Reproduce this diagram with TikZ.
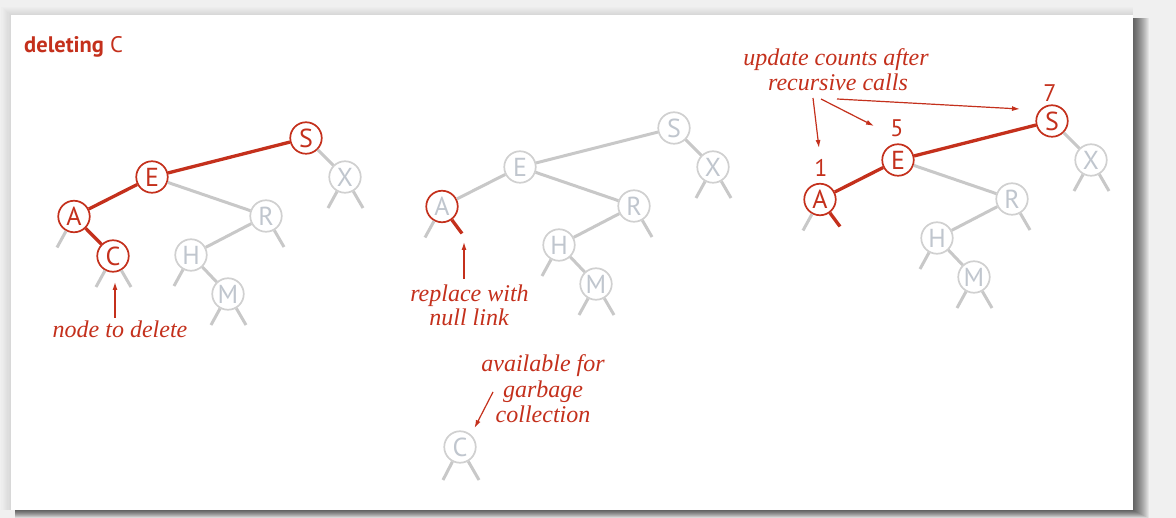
\documentclass[tikz,border=0pt]{standalone}
\usepackage{fontspec}
\setmainfont{Liberation Serif}
\newfontfamily\nsans{PT Sans}
\usetikzlibrary{arrows.meta}
\definecolor{myred}{RGB}{196,48,28}
\definecolor{gline}{RGB}{200,200,200}
\definecolor{gcirc}{RGB}{208,208,208}
\definecolor{gtext}{RGB}{192,198,206}
\definecolor{bgc}{RGB}{240,240,240}
\tikzset{
  gnode/.style={circle, draw=gcirc, fill=white, line width=1.7pt, minimum size=31.5pt, inner sep=0pt, text=gtext, font=\nsans\fontsize{26}{26}\selectfont},
  rnode/.style={gnode, draw=myred, text=myred},
  rgnode/.style={gnode, draw=myred},
  gedge/.style={draw=gline, line width=3pt},
  redge/.style={draw=myred, line width=3.3pt},
  arr/.style={draw=myred, line width=1.2pt, -{Latex[length=8pt,width=5pt]}},
  lbl/.style={text=myred, font=\itshape\fontsize{24}{25}\selectfont, inner sep=0pt, anchor=base},
  num/.style={text=myred, font=\nsans\fontsize{24}{24}\selectfont, inner sep=0pt, anchor=base},
}
\begin{document}
\begin{tikzpicture}[x=1pt,y=-1pt]
\useasboundingbox (0,0) rectangle (1176,518);
\fill[bgc] (0,0) rectangle (1176,518);
\foreach \k in {1,...,8}{
  \fill[black, opacity=0.012] (11-\k*1.2,15-\k) rectangle (1133,510);
}
\foreach \k in {1,...,16}{
  \fill[black, opacity=0.05] (15,18) rectangle (1133+\k,510+\k/2);
}
\fill[white] (11,15) rectangle (1133,510);

\node[anchor=base west, text=myred, font=\nsans\fontsize{22.5}{22.5}\selectfont, inner sep=0pt] (title) at (24,53) {\textbf{deleting} C};

% ---------- tree 1
\node[rnode] (s1) at (306,138) {S};
\node[rnode] (e1) at (152,177) {E};
\node[rnode] (a1) at (74,216.5) {A};
\node[rnode] (c1) at (113,256) {C};
\node[gnode] (r1) at (266,216) {R};
\node[gnode] (h1) at (191,255) {H};
\node[gnode] (m1) at (228,294) {M};
\node[gnode] (x1) at (345,177) {X};
\draw[redge] (e1) -- (s1);
\draw[redge] (a1) -- (e1);
\draw[redge] (a1) -- (c1);
\draw[gedge] (e1) -- (r1);
\draw[gedge] (r1) -- (h1);
\draw[gedge] (h1) -- (m1);
\draw[gedge] (s1) -- (x1);
\draw[gedge] (a1) -- ([shift={(-17,31)}]a1.center);
\draw[gedge] (c1) -- ([shift={(-17,31)}]c1.center);
\draw[gedge] (c1) -- ([shift={(18,31)}]c1.center);
\draw[gedge] (r1) -- ([shift={(18,31)}]r1.center);
\draw[gedge] (h1) -- ([shift={(-17,31)}]h1.center);
\draw[gedge] (m1) -- ([shift={(-17,31)}]m1.center);
\draw[gedge] (m1) -- ([shift={(18,31)}]m1.center);
\draw[gedge] (x1) -- ([shift={(-17,31)}]x1.center);
\draw[gedge] (x1) -- ([shift={(18,31)}]x1.center);
\node[lbl] (l1) at (120,338) {node to delete};
\coordinate (t1a) at (115,318);
\coordinate (t1b) at (115,282);
\draw[arr] (t1a) -- (t1b);

% ---------- tree 2
\node[gnode] (s2) at (674,128) {S};
\node[gnode] (e2) at (520,167) {E};
\node[rgnode] (a2) at (442,206.5) {A};
\node[gnode] (r2) at (634,206) {R};
\node[gnode] (h2) at (559,245) {H};
\node[gnode] (m2) at (596,284) {M};
\node[gnode] (x2) at (713,167) {X};
\node[gnode] (c2) at (460,447) {C};
\draw[gedge] (e2) -- (s2);
\draw[gedge] (a2) -- (e2);
\draw[gedge] (e2) -- (r2);
\draw[gedge] (r2) -- (h2);
\draw[gedge] (h2) -- (m2);
\draw[gedge] (s2) -- (x2);
\draw[gedge] (a2) -- ([shift={(-17,31)}]a2.center);
\draw[redge] (a2) -- ([shift={(20,27)}]a2.center);
\draw[gedge] (r2) -- ([shift={(18,31)}]r2.center);
\draw[gedge] (h2) -- ([shift={(-17,31)}]h2.center);
\draw[gedge] (m2) -- ([shift={(-17,31)}]m2.center);
\draw[gedge] (m2) -- ([shift={(18,31)}]m2.center);
\draw[gedge] (x2) -- ([shift={(-17,31)}]x2.center);
\draw[gedge] (x2) -- ([shift={(18,31)}]x2.center);
\draw[gedge] (c2) -- ([shift={(-17,33)}]c2.center);
\draw[gedge] (c2) -- ([shift={(19,33)}]c2.center);
\node[lbl] (l2a) at (469.5,302) {replace with};
\node[lbl] (l2b) at (469,326) {null link};
\coordinate (t2a) at (464,279);
\coordinate (t2b) at (464,242);
\draw[arr] (t2a) -- (t2b);
\node[lbl] (l3a) at (543,372) {available for};
\node[lbl] (l3b) at (543,397.5) {garbage};
\node[lbl] (l3c) at (543,422.5) {collection};
\coordinate (t3a) at (493,392);
\coordinate (t3b) at (474.5,428);
\draw[arr] (t3a) -- (t3b);

% ---------- tree 3
\node[rnode] (s3) at (1052,121) {S};
\node[rnode] (e3) at (898,160) {E};
\node[rnode] (a3) at (820,199.5) {A};
\node[gnode] (r3) at (1012,199) {R};
\node[gnode] (h3) at (937,238) {H};
\node[gnode] (m3) at (974,277) {M};
\node[gnode] (x3) at (1091,160) {X};
\draw[redge] (e3) -- (s3);
\draw[redge] (a3) -- (e3);
\draw[gedge] (e3) -- (r3);
\draw[gedge] (r3) -- (h3);
\draw[gedge] (h3) -- (m3);
\draw[gedge] (s3) -- (x3);
\draw[gedge] (a3) -- ([shift={(-17,31)}]a3.center);
\draw[redge] (a3) -- ([shift={(20,27)}]a3.center);
\draw[gedge] (r3) -- ([shift={(18,31)}]r3.center);
\draw[gedge] (h3) -- ([shift={(-17,31)}]h3.center);
\draw[gedge] (m3) -- ([shift={(-17,31)}]m3.center);
\draw[gedge] (m3) -- ([shift={(18,31)}]m3.center);
\draw[gedge] (x3) -- ([shift={(-17,31)}]x3.center);
\draw[gedge] (x3) -- ([shift={(18,31)}]x3.center);
\node[num] (n7) at (1050,101.5) {7};
\node[num] (n5) at (897,137) {5};
\node[num] (n1) at (821,176.5) {1};
\node[lbl] (l4a) at (836,66) {update counts after};
\node[lbl] (l4b) at (838,91) {recursive calls};
\coordinate (u1a) at (813,98);
\coordinate (u1b) at (819,148);
\coordinate (u2a) at (821,99);
\coordinate (u2b) at (874,126);
\coordinate (u3a) at (837,99);
\coordinate (u3b) at (1020,109);
\draw[arr] (u1a) -- (u1b);
\draw[arr] (u2a) -- (u2b);
\draw[arr] (u3a) -- (u3b);
\end{tikzpicture}
\end{document}
